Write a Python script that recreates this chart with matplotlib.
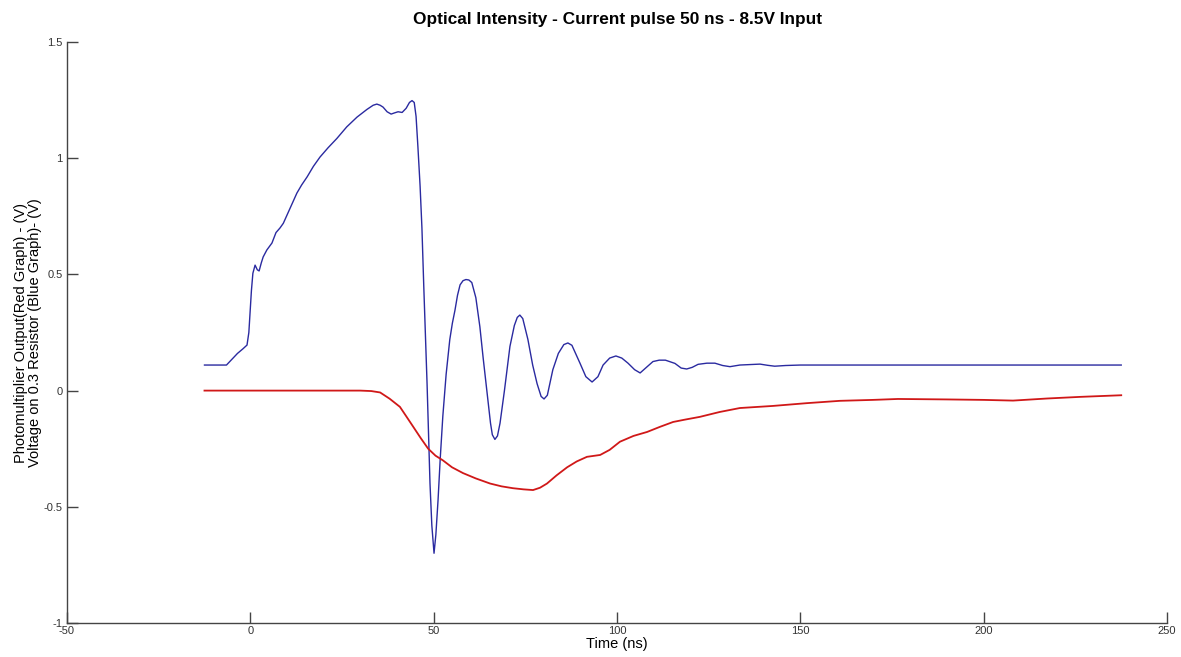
import matplotlib.pyplot as plt
import numpy as np

plt.rcParams['font.family'] = ['Liberation Sans', 'DejaVu Sans']

# voltage on the 0.3 ohm resistor (blue trace)
t_blue = [-12.5, -6.5, -4.7, -3.5, -2.0, -0.9, -0.4, -0.1, 0.3, 0.7, 1.3, 1.9, 2.4, 3.0, 3.5,
          4.5, 5.9, 7.0, 8.1, 9.0, 10.0, 11.3, 12.7, 14.0, 15.5, 17.2, 19.0, 21.2, 23.6, 26.3,
          29.1, 31.8, 33.5, 34.5, 35.4, 36.2, 37.3, 38.4, 39.3, 40.3, 41.4, 42.5, 43.4, 44.1,
          44.7, 45.2, 45.7, 46.3, 46.8, 47.3, 47.8, 48.2, 48.6, 49.0, 49.5, 50.1, 50.6, 51.2,
          51.8, 52.5, 53.4, 54.4, 55.1, 55.8, 56.5, 57.2, 58.0, 58.8, 59.6, 60.4, 61.5, 62.6,
          63.5, 64.5, 65.5, 66.0, 66.7, 67.4, 68.1, 69.3, 70.8, 72.0, 72.8, 73.5, 74.3, 75.7,
          77.0, 78.2, 79.3, 80.1, 81.0, 82.5, 84.0, 85.5, 86.6, 87.7, 89.0, 89.9, 91.5, 93.2,
          94.8, 96.2, 98.0, 99.7, 101.3, 103.0, 104.8, 106.3, 108.0, 109.8, 111.5, 113.2, 115.8,
          117.5, 119.0, 120.5, 122.1, 124.5, 126.7, 128.8, 130.8, 133.5, 136.0, 139.0, 141.0,
          143.0, 146.0, 150.0, 237.5]
v_blue = [0.11, 0.11, 0.14, 0.16, 0.18, 0.196, 0.25, 0.33, 0.43, 0.505, 0.54, 0.52, 0.515, 0.55, 0.575,
          0.605, 0.635, 0.68, 0.70, 0.72, 0.755, 0.80, 0.85, 0.885, 0.92, 0.965, 1.005, 1.045, 1.085, 1.135,
          1.177, 1.21, 1.228, 1.233, 1.228, 1.22, 1.20, 1.19, 1.195, 1.20, 1.197, 1.215, 1.24, 1.248,
          1.24, 1.18, 1.05, 0.88, 0.70, 0.45, 0.22, 0.03, -0.18, -0.40, -0.58, -0.70, -0.62, -0.47,
          -0.29, -0.11, 0.07, 0.22, 0.29, 0.345, 0.41, 0.455, 0.473, 0.478, 0.476, 0.465, 0.40, 0.275,
          0.14, 0.0, -0.14, -0.19, -0.21, -0.195, -0.14, 0.0, 0.19, 0.28, 0.315, 0.325, 0.31, 0.22,
          0.11, 0.03, -0.025, -0.036, -0.02, 0.09, 0.16, 0.198, 0.205, 0.195, 0.15, 0.118, 0.06, 0.037,
          0.06, 0.11, 0.14, 0.149, 0.14, 0.118, 0.09, 0.076, 0.10, 0.125, 0.131, 0.131, 0.117,
          0.097, 0.093, 0.10, 0.113, 0.118, 0.118, 0.108, 0.103, 0.11, 0.112, 0.114, 0.109,
          0.105, 0.108, 0.11, 0.11]

# photomultiplier output (red trace)
t_red = [-12.5, 30.0, 33.0, 35.4, 38.0, 40.8, 42.5, 44.4, 46.5, 48.5, 50.5, 52.5, 55.0, 58.0,
         61.5, 65.4, 68.5, 71.6, 74.5, 77.1, 79.0, 80.9, 83.5, 86.4, 89.0, 91.8, 95.4, 98.0,
         100.8, 104.5, 108.2, 111.7, 115.3, 118.5, 122.6, 128.0, 133.5, 142.5, 151.8, 160.8,
         169.8, 176.6, 190.0, 200.0, 208.0, 217.3, 226.3, 237.5]
v_red = [0.0, 0.0, -0.002, -0.008, -0.035, -0.07, -0.11, -0.155, -0.205, -0.25, -0.28, -0.30, -0.33, -0.355,
         -0.378, -0.40, -0.412, -0.42, -0.425, -0.428, -0.418, -0.40, -0.365, -0.33, -0.305, -0.285, -0.277, -0.255,
         -0.22, -0.195, -0.178, -0.156, -0.135, -0.125, -0.113, -0.092, -0.075, -0.066, -0.054, -0.044,
         -0.04, -0.036, -0.038, -0.04, -0.043, -0.034, -0.027, -0.02]

xticks = [-50, 0, 50, 100, 150, 200, 250]
yticks = [-1, -0.5, 0, 0.5, 1, 1.5]

fig = plt.figure(figsize=(11.81, 6.57), dpi=100)
ax = fig.add_axes([0.0567, 0.0518, 0.9315, 0.8842])

ax.plot(t_blue, v_blue, color='#2a2aa0', lw=1.0)
ax.plot(t_red, v_red, color='#d01818', lw=1.3)

ax.set_xlim(-50, 250)
ax.set_ylim(-1, 1.5)
ax.set_xticks(xticks)
ax.set_yticks(yticks)
ax.set_xticklabels(['%g' % v for v in xticks])
ax.set_yticklabels(['%g' % v for v in yticks])

for s in ['top', 'right']:
    ax.spines[s].set_visible(False)
for s in ['left', 'bottom']:
    ax.spines[s].set_color('#444444')
    ax.spines[s].set_linewidth(1.0)

ax.tick_params(direction='in', length=8, width=1, color='#444444',
               labelsize=8, labelcolor='#333333')
ax.tick_params(axis='x', pad=2)
ax.tick_params(axis='y', pad=3)

ax.set_title('Optical Intensity - Current pulse 50 ns - 8.5V Input',
             fontsize=12.4, fontweight='bold', pad=13)
ax.set_xlabel('Time (ns)', fontsize=10.5, labelpad=1)
ax.set_ylabel('Photomultiplier Output(Red Graph) - (V)\nVoltage on 0.3 Resistor (Blue Graph)- (V)',
              fontsize=10.5, linespacing=1.0)
ax.yaxis.set_label_coords(-0.0227, 0.5)

fig.savefig('out.png', dpi=100)
